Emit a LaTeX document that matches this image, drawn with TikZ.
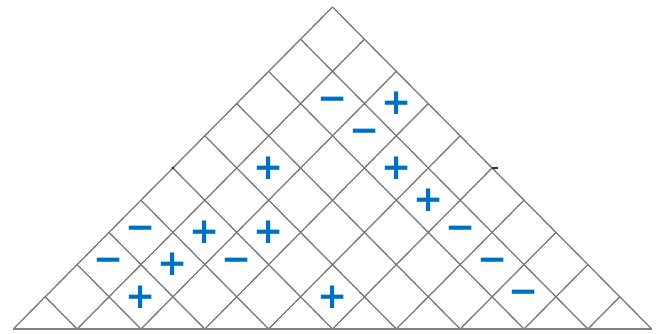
\documentclass[tikz,border=0pt]{standalone}
\usepackage{fontspec}
\newfontfamily\signfont{DejaVu Sans}
\definecolor{signblue}{RGB}{0,112,192}
\definecolor{gridgray}{RGB}{120,120,120}
\definecolor{basegray}{RGB}{130,130,130}
\begin{document}
\begin{tikzpicture}[x=31.92pt,y=32.2pt,
  gridline/.style={draw=gridgray,line width=1.3pt},
  baseedge/.style={draw=basegray,line width=2.8pt},
  sgn/.style={inner sep=0pt,text=signblue,font=\signfont\bfseries\fontsize{36}{36}\selectfont}]
\useasboundingbox (-13.3pt,-5pt) rectangle (644.7pt,329pt);
% lines rising to the right
\foreach \k in {0,...,9} \draw[gridline] ({2*\k},0) -- ({10+\k},{10-\k});
% lines rising to the left
\foreach \k in {1,...,10} \draw[gridline] ({2*\k},0) -- (\k,\k);
% base
\draw[baseedge] (0,0) -- (20,0);
% small marks on the edges
\fill[black!80] (5,5) circle (1.4pt);
\draw[black!80,line width=2pt] (15,5) -- ++(6pt,0);
% signs
\node[sgn] (m1) at (10,7) {−};
\node[sgn] (p1) at (12,7) {+};
\node[sgn] (m2) at (11,6) {−};
\node[sgn] (p2) at (8,5) {+};
\node[sgn] (p3) at (12,5) {+};
\node[sgn] (p4) at (13,4) {+};
\node[sgn] (m3) at (4,3) {−};
\node[sgn] (p5) at (6,3) {+};
\node[sgn] (p6) at (8,3) {+};
\node[sgn] (m4) at (14,3) {−};
\node[sgn] (m5) at (3,2) {−};
\node[sgn] (p7) at (5,2) {+};
\node[sgn] (m6) at (7,2) {−};
\node[sgn] (m7) at (15,2) {−};
\node[sgn] (p8) at (4,1) {+};
\node[sgn] (p9) at (10,1) {+};
\node[sgn] (m8) at (16,1) {−};
\end{tikzpicture}
\end{document}
